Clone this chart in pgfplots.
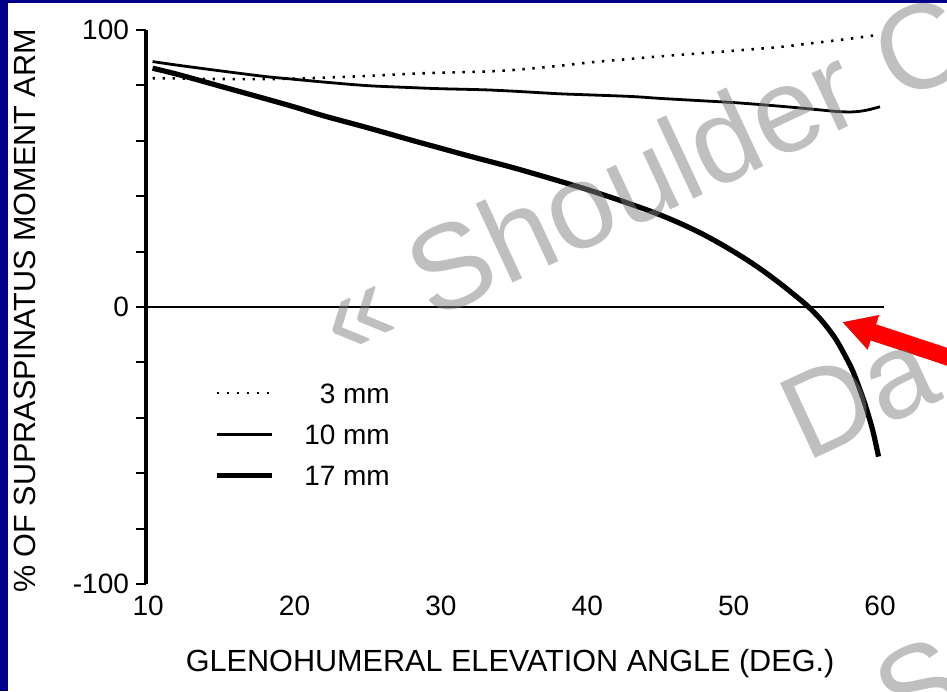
\documentclass[border=0pt]{standalone}
\usepackage{pgfplots}
\pgfplotsset{compat=1.18}
\usepackage{fontspec}
\setmainfont{Liberation Sans}
\usetikzlibrary{arrows.meta}
\definecolor{navyc}{RGB}{0,0,139}
\definecolor{wmgray}{RGB}{128,128,128}
\pgfplotstableread{
x y
10.3 82.6
12 82.5
15 82.3
18 82.3
20 82.4
22 82.8
25 83.4
28 84.2
30 84.6
33 85.0
35 85.6
38 87.0
40 88.2
43 89.6
45 90.5
48 91.7
50 92.5
53 93.8
55 95.0
58 96.9
59.8 98.2
}\tblthree
\pgfplotstableread{
x y
10.3 88.6
12 87.3
15 85.2
18 83.2
20 82.2
22 81.2
25 79.9
28 79.2
30 78.8
33 78.4
35 77.9
38 77.0
40 76.6
43 76.0
45 75.3
48 74.4
50 73.8
52 73.0
54 72.1
56 71.1
57 70.6
58 70.4
58.7 70.7
59.3 71.3
60 72.3
}\tblten
\pgfplotstableread{
x y
10.3 86.2
12 84.0
15 79.6
18 75.2
20 72.2
22 69.0
25 64.7
28 60.2
30 57.3
32 54.4
35 50.2
38 45.6
40 42.4
42 38.9
44 35.2
45 33.2
46 31.0
47 28.6
48 26.0
49 23.1
50 20.0
51 16.7
52 13.1
53 9.2
54 5.0
55 0.6
56 -4.8
57 -11.8
58 -21.5
58.5 -28.0
59 -35.5
59.5 -44.5
59.9 -54.0
}\tblseventeen
\begin{document}
\begin{tikzpicture}[x=1pt,y=1pt]
\fill[white] (0,0) rectangle (473.5,345.5);
\fill[navyc] (0,0) rectangle (4,345.5);
\fill[navyc] (0,343.75) rectangle (473.5,345.5);
\begin{axis}[
  at={(73pt,53.5pt)}, anchor=south west,
  scale only axis, width=367pt, height=277pt,
  xmin=9.85, xmax=60, ymin=-100, ymax=100,
  axis x line=bottom, axis y line=left,
  x axis line style={draw=none},
  y axis line style={-, line width=1.6pt},
  xtick={10,20,30,40,50,60},
  ytick={-100,-80,...,100},
  yticklabels={-100,,,,,0,,,,,100},
  tick align=outside,
  major tick length=5pt,
  xtick style={draw=none},
  ytick style={line width=1pt, black},
  tick label style={font=\fontsize{14pt}{16pt}\selectfont},
  x tick label style={yshift=2.5pt},
  /pgf/number format/assume math mode=true,
  label style={font=\fontsize{15.3pt}{17pt}\selectfont},
  xlabel={GLENOHUMERAL ELEVATION ANGLE (DEG.)},
  ylabel={\% OF SUPRASPINATUS MOMENT ARM},
  xlabel style={at={(axis description cs:0.496,-0.1444)}, anchor=center},
  ylabel style={at={(axis description cs:-0.1649,0.4928)}, anchor=center},
  clip=false,
  legend style={at={(axis cs:14.5,-27.3)}, anchor=north west, draw=none, fill=none,
    inner sep=0pt, outer sep=0pt, row sep=10pt, column sep=15pt,
    cells={anchor=east},
    nodes={inner sep=0pt, text height=10.5pt, text depth=0pt},
    font=\fontsize{14pt}{16pt}\selectfont},
  legend image code/.code={\draw[#1] (0pt,0pt) -- (27.5pt,0pt);},
]
\addplot[black, line width=1.3pt, dash pattern=on 1.2pt off 3.8pt, smooth] table[x=x,y=y] {\tblthree};
\addlegendentry{3 mm}
\addplot[black, line width=1.4pt, smooth] table[x=x,y=y] {\tblten};
\addlegendentry{10 mm}
\addplot[black, line width=2.6pt, smooth] table[x=x,y=y] {\tblseventeen};
\addlegendentry{17 mm}
\addplot[black, line width=1.2pt, forget plot] coordinates {(9.85,0) (60.3,0)};
\end{axis}
\draw[red, line width=8.5pt, -{Triangle[length=16.5pt, width=17pt]}] (492,161) -- (421,184.5);
\begin{scope}[every node/.style={inner sep=0pt, outer sep=0pt, anchor=base west, rotate=25,
    text=wmgray, text opacity=0.5, font=\fontsize{60pt}{60pt}\selectfont}]
\node at (171,164) {« Shoulder C};
\node at (403,114) {Da};
\node at (450,-25) {S};
\end{scope}
\pgfresetboundingbox
\useasboundingbox (0,0) rectangle (473.5,345.5);
\end{tikzpicture}
\end{document}
